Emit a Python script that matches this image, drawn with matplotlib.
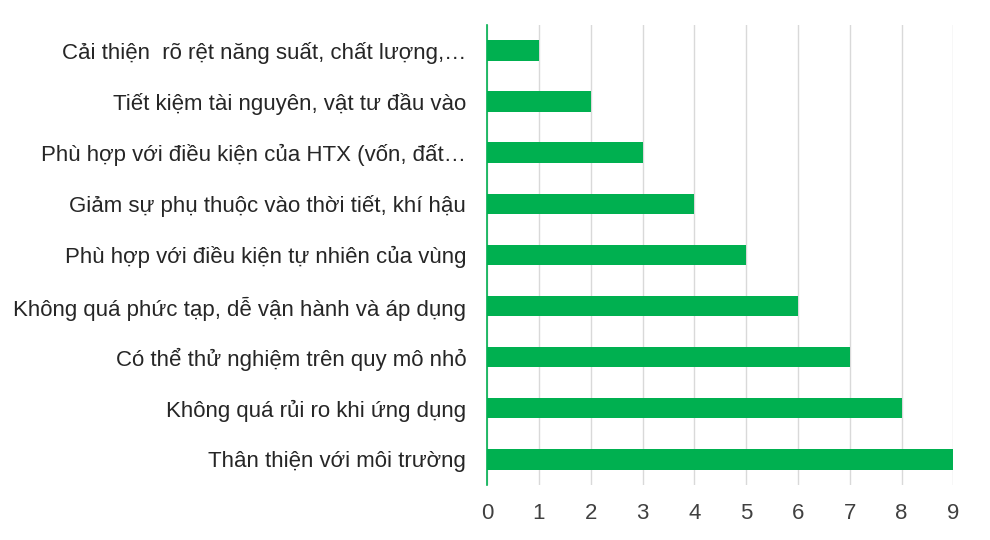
import matplotlib.pyplot as plt

categories = [
    "Cải thiện  rõ rệt năng suất, chất lượng,…",
    "Tiết kiệm tài nguyên, vật tư đầu vào",
    "Phù hợp với điều kiện của HTX (vốn, đất…",
    "Giảm sự phụ thuộc vào thời tiết, khí hậu",
    "Phù hợp với điều kiện tự nhiên của vùng",
    "Không quá phức tạp, dễ vận hành và áp dụng",
    "Có thể thử nghiệm trên quy mô nhỏ",
    "Không quá rủi ro khi ứng dụng",
    "Thân thiện với môi trường",
]
values = [1, 2, 3, 4, 5, 6, 7, 8, 9]
xticks = list(range(0, 10))

green = "#00B050"
plt.rcParams["font.family"] = ["Liberation Sans", "DejaVu Sans"]

fig = plt.figure(figsize=(9.9, 5.4), dpi=100)
ax = fig.add_axes([0.492, 0.102, 0.471, 0.852])

ypos = list(range(len(categories)))
ax.barh(ypos, values, height=0.4, color=green, zorder=3)
ax.set_ylim(len(categories) - 0.5, -0.5)
ax.set_xlim(0, 9)
ax.set_yticks(ypos)
ax.set_yticklabels(categories, fontsize=16, color="#262626")
ax.set_xticks(xticks)
ax.set_xticklabels([str(t) for t in xticks], fontsize=16, color="#404040")
ax.tick_params(axis="y", length=0, pad=15)
ax.tick_params(axis="x", length=0, pad=13)

ax.grid(axis="x", color="#d9d9d9", linewidth=1, zorder=0)
for s in ["top", "right", "bottom"]:
    ax.spines[s].set_visible(False)
ax.spines["left"].set_color(green)
ax.spines["left"].set_linewidth(1.2)
ax.spines["left"].set_zorder(4)

fig.savefig("out.png", dpi=100)
